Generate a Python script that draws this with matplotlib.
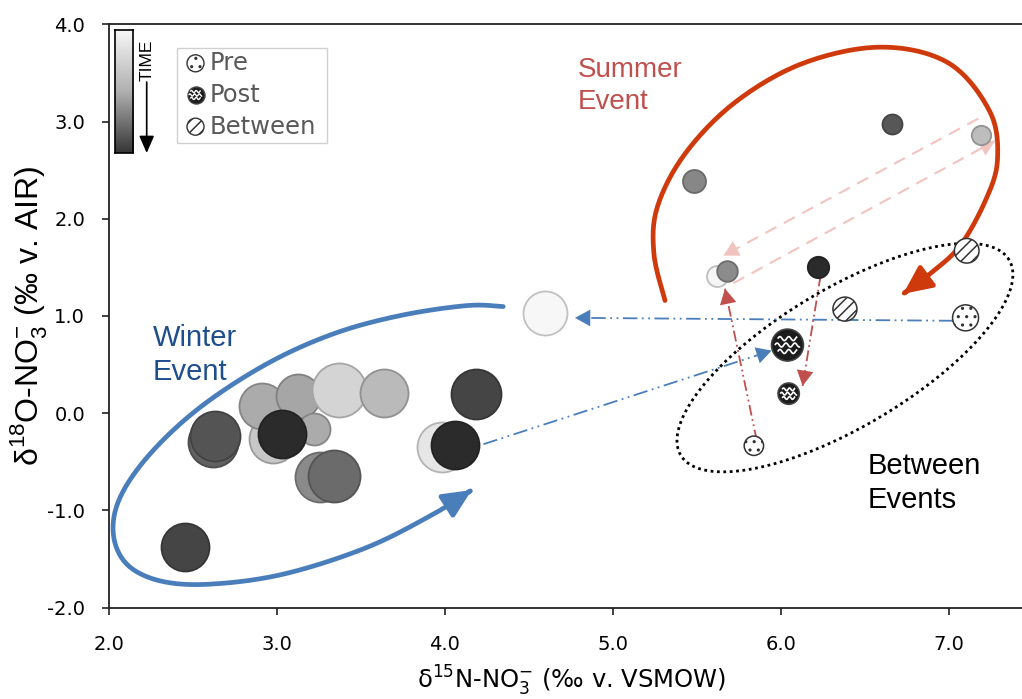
import numpy as np
import matplotlib
matplotlib.use("Agg")
import matplotlib.pyplot as plt
from matplotlib.path import Path
from matplotlib.patches import FancyArrowPatch, Rectangle
from matplotlib.colors import LinearSegmentedColormap

# ---------------- data ----------------
x_ticks = [2.0, 3.0, 4.0, 5.0, 6.0, 7.0]
y_ticks = [-2.0, -1.0, 0.0, 1.0, 2.0, 3.0, 4.0]

# Winter event samples (large circles); shade = grey level (time)
winter_n15 = [2.454, 2.620, 2.632, 2.980, 2.914, 3.124, 3.221, 3.033, 3.372, 3.640,
              3.257, 3.342, 3.985, 4.060, 4.184, 4.597]
winter_o18 = [-1.38, -0.30, -0.24, -0.27, 0.076, 0.18, -0.16, -0.22, 0.24, 0.207,
              -0.66, -0.65, -0.353, -0.33, 0.197, 1.034]
winter_shade = [0.27, 0.38, 0.33, 0.78, 0.67, 0.65, 0.67, 0.17, 0.83, 0.73,
                0.54, 0.42, 0.90, 0.17, 0.27, 0.97]
winter_size = [1194, 1296, 1296, 1194, 1097, 1004, 531, 1194, 1512, 1194,
               1296, 1402, 1296, 1194, 1296, 1004]

# Summer event samples (small circles)
summer_n15 = [6.66, 7.19, 5.483, 5.618, 5.68, 6.223]
summer_o18 = [2.97, 2.857, 2.386, 1.415, 1.466, 1.50]
summer_shade = [0.34, 0.74, 0.53, 0.96, 0.55, 0.17]
summer_size = [207, 195, 274, 229, 220, 237]

# Between-event samples
pre_n15 = [7.10, 5.84]
pre_o18 = [0.98, -0.336]
pre_size = [350, 195]
post_n15 = [6.04, 6.047]
post_o18 = [0.70, 0.20]
post_size = [531, 237]
between_n15 = [7.107, 6.382]
between_o18 = [1.67, 1.07]
between_size = [314, 299]

legend_labels = ["Pre", "Post", "Between"]

# ---------------- figure ----------------
W, H = 1022, 699
fig = plt.figure(figsize=(W / 100, H / 100), dpi=100)
ax_left, ax_right, ax_top, ax_bot = 108.8, 1022.0, 24.3, 607.5
ax = fig.add_axes([ax_left / W, 1 - ax_bot / H, (ax_right - ax_left) / W, (ax_bot - ax_top) / H])
ax.set_xlim(2.0, 7.436)
ax.set_ylim(-2.0, 4.0)

plt.rcParams['hatch.color'] = '#333333'
plt.rcParams['hatch.linewidth'] = 1.1

def grey(v):
    return (v, v, v)

def edge(v):
    e = v * 0.78
    return (e, e, e)

# curved / guide annotations (drawn first, beneath markers)
def smooth(pts, n=16):
    p = np.asarray(pts, float)
    p = np.vstack([p[0], p, p[-1]])
    out = []
    for i in range(1, len(p) - 2):
        p0, p1, p2, p3 = p[i - 1], p[i], p[i + 1], p[i + 2]
        t = np.linspace(0, 1, n, endpoint=False)[:, None]
        out.append(0.5 * ((2 * p1) + (-p0 + p2) * t + (2 * p0 - 5 * p1 + 4 * p2 - p3) * t ** 2
                          + (-p0 + 3 * p1 - 3 * p2 + p3) * t ** 3))
    out.append(p[-2][None, :])
    return np.vstack(out)

red_curve = [(5.311, 1.158), (5.245, 1.639), (5.265, 2.119), (5.430, 2.668), (5.730, 3.200),
             (6.134, 3.600), (6.600, 3.765), (7.000, 3.600), (7.245, 3.100), (7.290, 2.605),
             (7.220, 2.193), (7.067, 1.720), (6.888, 1.433), (6.729, 1.227)]
blue_curve = [(4.348, 1.096), (4.130, 1.106), (3.733, 1.003), (3.336, 0.815), (2.940, 0.506),
              (2.543, 0.059), (2.245, -0.421), (2.067, -0.868), (2.027, -1.245), (2.107, -1.554),
              (2.305, -1.726), (2.602, -1.760), (3.039, -1.657), (3.535, -1.383), (3.932, -1.039),
              (4.160, -0.792)]

for pts, col in [(red_curve, '#cf3a0c'), (blue_curve, '#4a7ebb')]:
    arr = FancyArrowPatch(path=Path(smooth(pts)),
                          arrowstyle='-|>,head_length=0.9,head_width=0.42',
                          mutation_scale=19, color=col, lw=3.4, zorder=2)
    ax.add_patch(arr)

# dotted "between events" ellipse
cx, cy = 6.382, 0.571
a_px, b_px, th = 191.0, 69.0, np.deg2rad(30.7)
t = np.linspace(0, 2 * np.pi, 400)
ex = cx + (a_px * np.cos(th) * np.cos(t) - b_px * np.sin(th) * np.sin(t)) / 168.0
ey = cy + (a_px * np.sin(th) * np.cos(t) + b_px * np.cos(th) * np.sin(t)) / 97.1
ax.plot(ex, ey, color='black', lw=2.0, ls=(0, (1, 1.3)), zorder=2)

def guide(p0, p1, color, ls, lw, hl=0.55, hw=0.3, ms=20):
    ax.plot([p0[0], p1[0]], [p0[1], p1[1]], color=color, ls=ls, lw=lw, zorder=3)
    ax.annotate('', xy=p1, xytext=p0,
                arrowprops=dict(arrowstyle=f'-|>,head_length={hl},head_width={hw}',
                                color=color, lw=0, shrinkA=0, shrinkB=0, mutation_scale=ms),
                zorder=3)

pink = '#f2c4c0'
guide((7.176, 3.03), (5.658, 1.62), pink, (0, (6, 4)), 1.5)
guide((5.717, 1.336), (7.275, 2.80), pink, (0, (6, 4)), 1.5)
red = '#c0504d'
guide((5.857, -0.28), (5.668, 1.28), red, (0, (6, 2, 1, 2, 1, 2)), 1.3)
guide((6.237, 1.415), (6.13, 0.28), red, (0, (6, 2, 1, 2, 1, 2)), 1.3)
blue = '#4a7ebb'
guide((7.027, 0.95), (4.775, 0.98), blue, (0, (8, 2.5, 1, 2.5, 1, 2.5)), 1.3)
guide((4.23, -0.32), (5.946, 0.643), blue, (0, (8, 2.5, 1, 2.5, 1, 2.5)), 1.3)

# ---------------- markers ----------------
for xs, ys, sh, sz in [(winter_n15, winter_o18, winter_shade, winter_size),
                       (summer_n15, summer_o18, summer_shade, summer_size)]:
    for x, y, v, s in zip(xs, ys, sh, sz):
        ax.scatter([x], [y], s=s, color=grey(v), edgecolors=[edge(v)], linewidths=1.3, zorder=4)

def wave_marker():
    verts = [(1, 0), (-1, 0), (0, 1), (0, -1)]
    codes = [Path.MOVETO] * 4
    for yc in [-0.45, 0.0, 0.45]:
        half = np.sqrt(max(1 - (abs(yc) + 0.2) ** 2, 0.05)) * 0.9
        xs = np.linspace(-half, half, 40)
        ys = yc + 0.14 * np.sin((xs + half) * 2 * np.pi / 0.62)
        verts += list(zip(xs, ys))
        codes += [Path.MOVETO] + [Path.LINETO] * (len(xs) - 1)
    return Path(verts, codes)

WAVE = wave_marker()

ax.scatter(pre_n15, pre_o18, s=pre_size, facecolors='white', edgecolors='#333333',
           linewidths=1.1, hatch='..', zorder=5)
ax.scatter(between_n15, between_o18, s=between_size, facecolors='white', edgecolors='#333333',
           linewidths=1.1, hatch='///', zorder=5)
ax.scatter(post_n15, post_o18, s=post_size, facecolors='#1c1c1c', edgecolors='#444444',
           linewidths=1.1, zorder=5)
ax.scatter(post_n15, post_o18, s=[v * 0.8 for v in post_size], marker=WAVE, facecolors='none',
           edgecolors='white', linewidths=1.2, zorder=6)

# ---------------- axes styling ----------------
ax.spines['right'].set_visible(False)
for sp in ['left', 'bottom', 'top']:
    ax.spines[sp].set_linewidth(1.3)
    ax.spines[sp].set_color('#222222')
ax.set_xticks(x_ticks)
ax.set_yticks(y_ticks)
ax.set_xticklabels([f'{v:.1f}' for v in x_ticks])
ax.set_yticklabels([f'{v:.1f}' for v in y_ticks])
ax.tick_params(axis='both', direction='out', length=5, width=1.2, color='#222222',
               labelsize=14, labelcolor='black')
ax.tick_params(axis='x', pad=15)
ax.tick_params(axis='y', pad=12)
for lab in ax.get_xticklabels() + ax.get_yticklabels():
    lab.set_family('DejaVu Sans')

ax.set_xlabel('δ$^{\\mathregular{15}}$N-NO$_{\\mathregular{3}}^{\\mathregular{-}}$ (‰ v. VSMOW)',
              fontsize=17.5, family=['DejaVu Sans'])
ax.xaxis.set_label_coords(0.507, -0.097)
ax.set_ylabel('δ$^{\\mathregular{18}}$O-NO$_{\\mathregular{3}}^{\\mathregular{-}}$ (‰ v. AIR)',
              fontsize=23, family=['Liberation Sans', 'DejaVu Sans'])
ax.yaxis.set_label_coords(-0.066, 0.5)

# ---------------- annotations text ----------------
ax.text(4.793, 3.66, 'Summer\nEvent', color='#c0504d', fontsize=20, family='Liberation Sans',
        ha='left', va='top', linespacing=1.3)
ax.text(2.261, 0.918, 'Winter\nEvent', color='#1f4e8c', fontsize=21, family='Liberation Sans',
        ha='left', va='top', linespacing=1.3)
ax.text(6.519, -0.405, 'Between\nEvents', color='black', fontsize=21, family='Liberation Sans',
        ha='left', va='top', linespacing=1.25)

# ---------------- legend (manual) ----------------
def axfrac(px, py):
    return ((px - ax_left) / (ax_right - ax_left), (ax_bot - py) / (ax_bot - ax_top))

l0 = axfrac(176.7, 143.3)
l1 = axfrac(326.7, 48.3)
ax.add_patch(Rectangle(l0, l1[0] - l0[0], l1[1] - l0[1], transform=ax.transAxes,
                       facecolor='white', edgecolor='#d0d0d0', lw=1.0, zorder=7))
rows = [63.3, 95.0, 126.7]
for lab, py in zip(legend_labels, rows):
    mx, my = axfrac(195.5, py)
    if lab == 'Pre':
        ax.scatter([mx], [my], s=150, transform=ax.transAxes, facecolors='white',
                   edgecolors='#333333', linewidths=1.0, hatch='..', zorder=8, clip_on=False)
    elif lab == 'Post':
        ax.scatter([mx], [my], s=150, transform=ax.transAxes, facecolors='#1c1c1c',
                   edgecolors='#444444', linewidths=1.0, zorder=8, clip_on=False)
        ax.scatter([mx], [my], s=120, transform=ax.transAxes, marker=WAVE, facecolors='none',
                   edgecolors='white', linewidths=1.0, zorder=9, clip_on=False)
    else:
        ax.scatter([mx], [my], s=150, transform=ax.transAxes, facecolors='white',
                   edgecolors='#333333', linewidths=1.0, hatch='///', zorder=8, clip_on=False)
    tx, ty = axfrac(209.5, py)
    ax.text(tx, ty, lab, transform=ax.transAxes, fontsize=17.5, color='#595959',
            family='DejaVu Sans', ha='left', va='center', zorder=9)

# ---------------- time colour bar ----------------
cax = fig.add_axes([115 / W, 1 - 152.7 / H, 18.3 / W, 122.7 / H])
cmap = LinearSegmentedColormap.from_list('time', ['#f7f7f7', '#b0b0b0', '#353535'])
cax.imshow(np.linspace(0, 1, 256)[:, None], aspect='auto', cmap=cmap)
cax.set_xticks([])
cax.set_yticks([])
for sp in cax.spines.values():
    sp.set_color('black')
    sp.set_linewidth(1.2)

fig.text(146.7 / W, 1 - 60 / H, 'TIME', rotation=90, ha='center', va='center',
         fontsize=12.5, family='Liberation Sans', color='black')
fig.add_artist(FancyArrowPatch((146.7 / W, 1 - 82 / H), (146.7 / W, 1 - 153 / H),
                               transform=fig.transFigure,
                               arrowstyle='-|>,head_length=0.8,head_width=0.35',
                               mutation_scale=13, color='black', lw=1.2,
                               shrinkA=0, shrinkB=0))

fig.savefig('out.png', dpi=100)
